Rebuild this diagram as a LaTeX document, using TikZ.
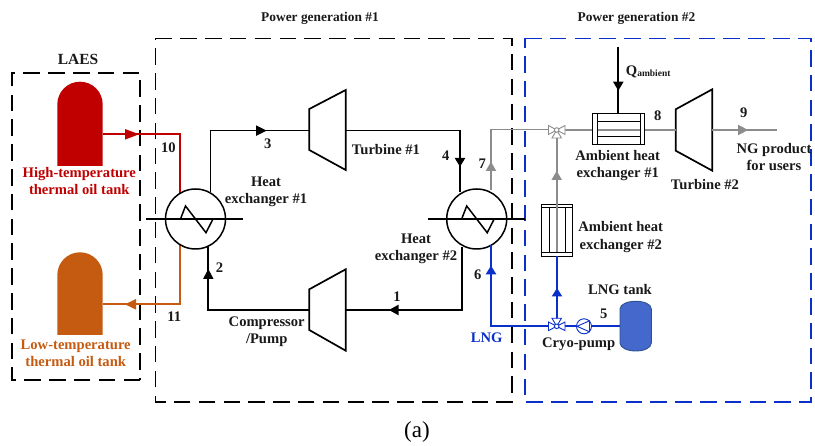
\documentclass[tikz,border=0pt]{standalone}
\usepackage{fontspec}
\setmainfont{Liberation Serif}
\usetikzlibrary{calc}
\definecolor{cred}{HTML}{C00000}
\definecolor{corange}{HTML}{C55A11}
\definecolor{cblue}{HTML}{0B2FC9}
\definecolor{cgray}{HTML}{8C8C8C}
\definecolor{ctank}{HTML}{4468CC}
\definecolor{ctanke}{HTML}{2F528F}
\tikzset{
 pipe/.style={line width=1.8pt},
 unit/.style={line width=1.7pt,fill=white,line join=miter},
 thin unit/.style={line width=0.9pt},
 dbox/.style={line width=1.6pt,dash pattern=on 16.5pt off 8.3pt},
 lbl/.style={font=\fontsize{14.6}{17.2}\selectfont\bfseries,align=center,inner sep=0pt,text=black!90},
 head/.style={lbl,font=\fontsize{13.4}{16}\selectfont\bfseries},
}
\begin{document}
\begin{tikzpicture}[x=1pt,y=-1pt]
\useasboundingbox (0,0) rectangle (815,446);
% boxes
\draw[dbox] (140,380) -- (12,380) -- (12,73) -- (140,73) -- cycle;
\draw[dbox] (155.5,38.5) -- (512,38.5) -- (512,402) -- (155.5,402) -- cycle;
\draw[dbox,cblue] (525,38.5) -- (811,38.5) -- (811,402) -- (525,402) -- cycle;
% named coordinates
\coordinate (hxa) at (195.5,219);
\coordinate (hxb) at (476.7,219);
% tanks
\fill[cred] (57.3,166) -- (57.3,104.4) arc[start angle=180,end angle=360,radius=22.7] -- (102.7,166) -- cycle;
\fill[corange] (57.3,335) -- (57.3,275) arc[start angle=180,end angle=360,radius=22.7] -- (102.7,335) -- cycle;
\coordinate (ta) at (102.7,134.3);
\coordinate (tb) at (102.7,304.3);
% oil lines
\draw[pipe,cred] (ta) -- (180.3,134.3) -- (180.3,193);
\draw[pipe,corange] (180.3,244) -- (180.3,304.3) -- (tb);
\fill[cred] (139,134.3) -- (125,129) -- (125,139.6) -- cycle;
\fill[corange] (125,304.3) -- (136,299) -- (136,309.6) -- cycle;
% stubs
\draw[line width=1.3pt] (146,219) -- (243,219);
\draw[line width=1.3pt] (427.7,219) -- (525,219);
% black cycle
\draw[pipe] (210.5,192) -- (210.5,130.6) -- (309.3,130.6);
\draw[pipe] (345.7,130.6) -- (460,130.6) -- (460,192);
\draw[pipe] (462,247) -- (462,310) -- (345.7,310);
\draw[pipe] (309.3,310) -- (208.3,310) -- (208.3,247);
\fill (266.7,130.6) -- (256,125.3) -- (256,135.9) -- cycle;
\fill (460,166.7) -- (454.7,158) -- (465.3,158) -- cycle;
\fill (389,310) -- (398.5,304.7) -- (398.5,315.3) -- cycle;
\fill (208.3,269) -- (203,279) -- (213.6,279) -- cycle;
% HX
\foreach \c in {hxa,hxb}{
 \draw[line width=1.5pt] (\c) circle[radius=30];
 \draw[line width=1.5pt,line join=miter] ($(\c)+(-30,0)$) -- ($(\c)+(-15,0)$) -- ($(\c)+(-10,-13)$) -- ($(\c)+(10.5,13.7)$) -- ($(\c)+(17.5,0)$) -- ($(\c)+(30,0)$);
}
% turbines
\draw[unit] (309.3,109) -- (345.7,90) -- (345.7,170) -- (309.3,150) -- cycle;
\draw[unit] (675.7,109.3) -- (712.3,89.3) -- (712.3,170.7) -- (675.7,150.7) -- cycle;
\draw[unit] (309.3,289.3) -- (345.7,269.3) -- (345.7,350.7) -- (309.3,330) -- cycle;
% gray
\draw[pipe,cgray] (491,190) -- (491,129.5) -- (549,129.5);
\draw[pipe,cgray] (565,130) -- (592.7,130);
\draw[pipe,cgray] (644.3,130) -- (675.7,130);
\draw[pipe,cgray] (712.3,130) -- (776.7,130);
\draw[pipe,cgray] (556.7,138) -- (556.7,204);
\fill[cgray] (491,161.7) -- (485.7,171) -- (496.3,171) -- cycle;
\fill[cgray] (748,130) -- (738,124.7) -- (738,135.3) -- cycle;
\fill[cgray] (556.7,171) -- (551.4,180) -- (562,180) -- cycle;
% ambient HX 1
\draw[pipe] (618.3,47) -- (618.3,113);
\fill (618.3,90.7) -- (613,81.7) -- (623.6,81.7) -- cycle;
\draw[thin unit,fill=white] (592.7,113.3) rectangle (644.3,144.3);
\draw[thin unit] (597.7,113.3) -- (597.7,144.3) (640,113.3) -- (640,144.3) (597.7,121) -- (640,121) (597.7,136.7) -- (640,136.7);
\draw[pipe,cgray] (597.7,130) -- (640,130);
% ambient HX 2
\draw[thin unit,fill=white] (541.3,204.3) rectangle (572.7,256);
\draw[thin unit] (549.3,207.3) -- (549.3,252.3) (565,207.3) -- (565,252.3) (541.3,207.3) -- (572.7,207.3) (541.3,252.3) -- (572.7,252.3);
\draw[pipe,cgray] (557,204.3) -- (557,252);
% blue
\draw[pipe,cblue] (557,256) -- (557,319);
\fill[cblue] (557,288) -- (551.7,296.5) -- (562.3,296.5) -- cycle;
\draw[pipe,cblue] (491,245) -- (491,326.3) -- (549,326.3);
\draw[pipe,cblue] (565,326.3) -- (620,326.3);
\fill[cblue] (491,265.7) -- (485.7,274.3) -- (496.3,274.3) -- cycle;
% valves
\draw[line width=0.9pt,cgray,fill=white] (556.7,130) -- (548.5,125.5) -- (548.5,134.5) -- cycle
 (556.7,130) -- (565,125.5) -- (565,134.5) -- cycle
 (556.7,130) -- (552,138) -- (561.4,138) -- cycle;
\draw[line width=0.9pt,cgray,fill=white] (556.7,130) circle[radius=2.3];
\draw[line width=0.9pt,cblue,fill=white] (556.7,326.3) -- (548.5,322) -- (548.5,330.6) -- cycle
 (556.7,326.3) -- (565,322) -- (565,330.6) -- cycle
 (556.7,326.3) -- (552,318.3) -- (561.4,318.3) -- cycle;
\draw[line width=0.9pt,cblue,fill=white] (556.7,326.3) circle[radius=2.3];
% pump
\draw[line width=0.9pt,cblue,fill=white] (584,326.3) circle[radius=7.5];
\draw[line width=0.9pt,cblue] (577,326.3) -- (589.5,320.8) -- (589.5,331.8) -- cycle;
% LNG tank
\draw[line width=0.9pt,draw=ctanke,fill=ctank] (620,309) .. controls (620,304) and (628,301.3) .. (635.6,301.3) .. controls (644,301.3) and (651.3,304) .. (651.3,309) -- (651.3,343) .. controls (651.3,348) and (644,351) .. (635.6,351) .. controls (628,351) and (620,348) .. (620,343) -- cycle;
% text
\node[head] at (320,18) {Power generation \#1};
\node[head] at (636.5,18) {Power generation \#2};
\node[head,font=\fontsize{15.5}{18}\selectfont\bfseries] at (78,59) {LAES};
\node[lbl,text=cred] at (79.3,181) {High-temperature\\thermal oil tank};
\node[lbl,text=corange] at (75.7,353.6) {Low-temperature\\thermal oil tank};
\node[lbl] at (168.3,147.3) {10};
\node[lbl] at (174.3,316.7) {11};
\node[lbl] at (267.7,143.3) {3};
\node[lbl] at (219.5,268) {2};
\node[lbl] at (386,150) {Turbine \#1};
\node[lbl] at (445.7,156) {4};
\node[lbl] at (482.3,164) {7};
\node[lbl] at (266,191.5) {Heat\\exchanger \#1};
\node[lbl] at (416,248.5) {Heat\\exchanger \#2};
\node[lbl] at (397,297) {1};
\node[lbl] at (266.7,331.7) {Compressor\\/Pump};
\node[lbl] at (477.7,275) {6};
\node[lbl,text=cblue] at (486.7,338) {LNG};
\node[lbl] at (578.7,344.3) {Cryo-pump};
\node[lbl] at (603.7,314) {5};
\node[lbl] at (620,289.3) {LNG tank};
\node[lbl] at (620.7,237) {Ambient heat\\exchanger \#2};
\node[lbl] at (617.7,165.5) {Ambient heat\\exchanger \#1};
\node[lbl] at (657.7,115.3) {8};
\node[lbl] at (743.7,112.7) {9};
\node[lbl] at (705,184.3) {Turbine \#2};
\node[lbl] at (774,157) {NG product\\for users};
\node[lbl,anchor=west] at (625.7,72) {Q\raisebox{-1pt}{\fontsize{9.5}{10}\selectfont ambient}};
\node[font=\fontsize{23}{25}\selectfont,inner sep=0pt] at (417,432) {(a)};
\end{tikzpicture}
\end{document}
